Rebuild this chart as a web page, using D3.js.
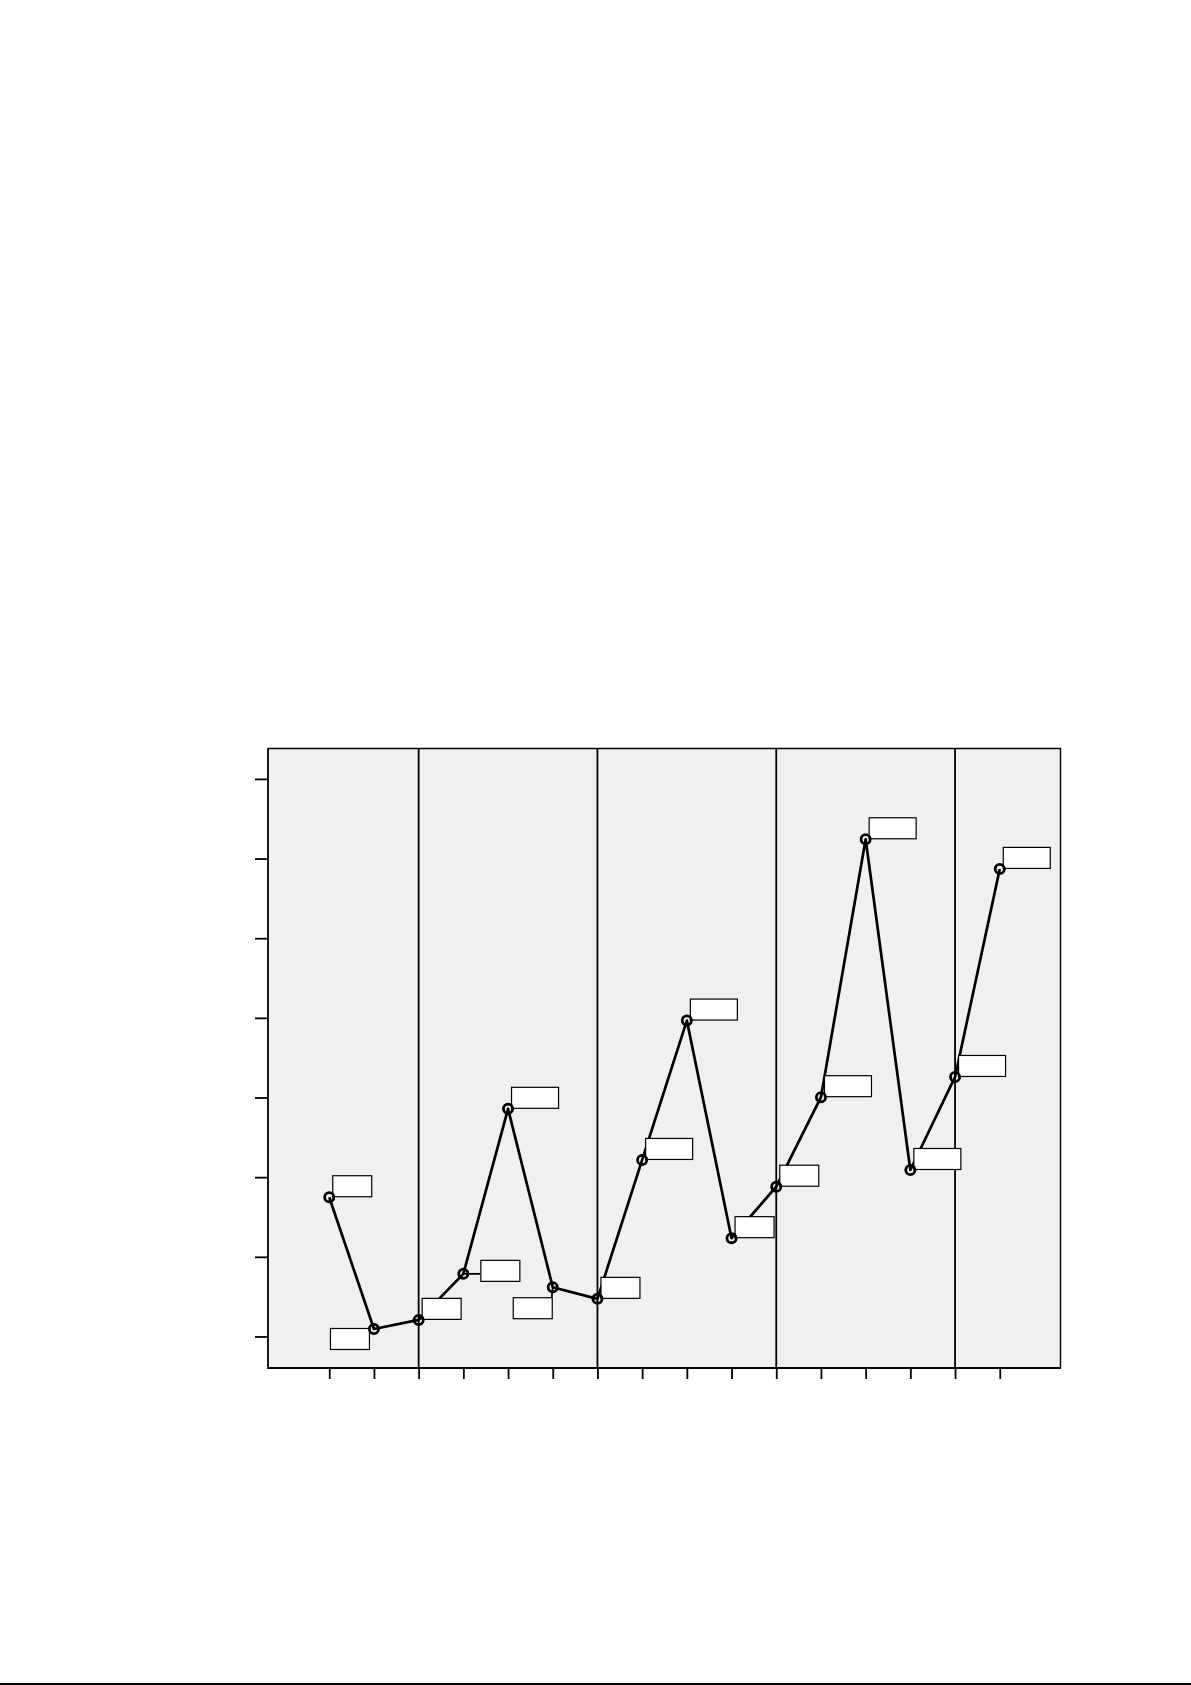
<!DOCTYPE html>
<html>
<head>
<meta charset="utf-8">
<script src="https://cdn.jsdelivr.net/npm/d3@7"></script>
<style>
  html, body { margin: 0; padding: 0; background: #ffffff; }
  svg { display: block; }
</style>
</head>
<body>
<svg id="chart" width="1191" height="1685"></svg>
<script>
// ---- data ----
const periods = ["1","2","3","4","5","6","7","8","9","10","11","12","13","14","15","16"];
const values = [8.74, 0.47, 1.04, 3.93, 14.29, 3.09, 2.36, 11.08, 19.83, 6.17, 9.40, 15.02, 31.21, 10.45, 16.29, 29.35];
const yTicks = [0, 5, 10, 15, 20, 25, 30, 35];
const groupStarts = ["3", "7", "11", "15"];
const labelPlacement = ["ne","sw","ne","e","ne","s","ne","ne","ne","ne","ne","ne","ne","ne","ne","ne"];

// ---- layout ----
const svg = d3.select("#chart");
const L = 268, R = 1061, T = 748, B = 1368;

const x = d3.scalePoint().domain(periods).range([L, R]).padding(1.37);
const y = d3.scaleLinear().domain([-1.98, 36.94]).range([B, T]);

// background
svg.append("rect").attr("x", L).attr("y", T).attr("width", R - L).attr("height", B - T)
  .attr("fill", "#f0f0f0");

// group separators
svg.append("g").selectAll("line").data(groupStarts).join("line")
  .attr("x1", d => x(d)).attr("x2", d => x(d))
  .attr("y1", T).attr("y2", B)
  .attr("stroke", "#000").attr("stroke-width", 1.8);

// frame
svg.append("line").attr("x1", L).attr("x2", R).attr("y1", T + 0.5).attr("y2", T + 0.5)
  .attr("stroke", "#000").attr("stroke-width", 1.4);
svg.append("line").attr("x1", R - 0.5).attr("x2", R - 0.5).attr("y1", T).attr("y2", B)
  .attr("stroke", "#000").attr("stroke-width", 1.4);
svg.append("line").attr("x1", L).attr("x2", L).attr("y1", T).attr("y2", B + 0.9)
  .attr("stroke", "#000").attr("stroke-width", 1.8);
svg.append("line").attr("x1", L).attr("x2", R).attr("y1", B).attr("y2", B)
  .attr("stroke", "#000").attr("stroke-width", 1.8);

// axes
const yAxis = svg.append("g").attr("transform", `translate(${L},0)`)
  .call(d3.axisLeft(y).tickValues(yTicks).tickFormat("").tickSize(13).tickSizeOuter(0));
yAxis.select(".domain").remove();
yAxis.selectAll(".tick line").attr("stroke", "#000").attr("stroke-width", 1.8);

const xAxis = svg.append("g").attr("transform", `translate(0,${B})`)
  .call(d3.axisBottom(x).tickFormat("").tickSize(11).tickSizeOuter(0));
xAxis.select(".domain").remove();
xAxis.selectAll(".tick line").attr("stroke", "#000").attr("stroke-width", 1.8);

// data line
const pts = periods.map((p, i) => ({ p, v: values[i], pos: labelPlacement[i] }));
svg.append("path").datum(pts)
  .attr("d", d3.line().x(d => x(d.p)).y(d => y(d.v)))
  .attr("fill", "none").attr("stroke", "#000").attr("stroke-width", 2.7)
  .attr("stroke-linejoin", "round");

// labels (boxes)
const BOX_H = 21;
function box(d) {
  const cx = x(d.p), cy = y(d.v);
  const w = d.v >= 10 ? 47 : 39;
  let bx, by;
  switch (d.pos) {
    case "sw": bx = cx - 5 - w; by = cy - 1; break;
    case "e":  bx = cx + 17; by = cy - 14; break;
    case "s":  bx = cx - 1 - w; by = cy + 10; break;
    default:   bx = cx + 3; by = cy - 1 - BOX_H;
  }
  return { cx, cy, bx, by, w };
}
const lbl = svg.append("g").selectAll("g").data(pts).join("g");
lbl.each(function(d) {
  const b = box(d);
  const g = d3.select(this);
  const nx = Math.max(b.bx, Math.min(b.cx, b.bx + b.w));
  const ny = Math.max(b.by, Math.min(b.cy, b.by + BOX_H));
  if (Math.hypot(nx - b.cx, ny - b.cy) > 6) {
    g.append("line").attr("x1", b.cx).attr("y1", b.cy).attr("x2", nx).attr("y2", ny)
      .attr("stroke", "#000").attr("stroke-width", 1.8);
  }
  g.append("rect").attr("x", b.bx + 0.5).attr("y", b.by + 0.5)
    .attr("width", b.w).attr("height", BOX_H)
    .attr("fill", "#ffffff").attr("stroke", "#000").attr("stroke-width", 1.2);
});

// markers
svg.append("g").selectAll("circle").data(pts).join("circle")
  .attr("cx", d => x(d.p)).attr("cy", d => y(d.v)).attr("r", 4.6)
  .attr("fill", "none").attr("stroke", "#000").attr("stroke-width", 2.8);

// bottom page rule
svg.append("rect").attr("x", 0).attr("y", 1683).attr("width", 1191).attr("height", 2).attr("fill", "#000");
</script>
</body>
</html>
